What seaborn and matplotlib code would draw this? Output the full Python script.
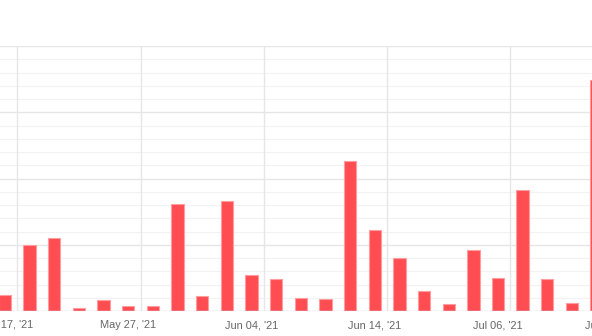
import matplotlib
matplotlib.use("Agg")
import matplotlib.pyplot as plt
import matplotlib.transforms as mtransforms
import seaborn as sns
import pandas as pd
import numpy as np

# Data (y units arbitrary, major grid = 50)
positions = list(range(25))
values = [12, 50, 55, 2, 8, 3.5, 3.5, 81, 11, 83, 27, 24, 9.5, 9, 113,
          61, 40, 15, 5, 46, 25, 91, 24, 6, 174]
tick_positions = [0, 5, 10, 15, 20, 25]
tick_labels = ["May 17, '21", "May 27, '21", "Jun 04, '21", "Jun 14, '21",
               "Jul 06, '21", "Jul 16, '21"]

sns.set_theme(style="white")
plt.rcParams['font.family'] = ['Liberation Sans', 'DejaVu Sans']

W, H = 592, 336
fig = plt.figure(figsize=(W / 100, H / 100), dpi=100)
fig.patch.set_facecolor("white")

# axes placement in pixels (extends beyond the canvas horizontally)
step = 24.65
x0 = 5 - 12.325      # pixel of x=-0.5
x1 = x0 + 26 * step  # pixel of x=25.5
ytop, ybot = 46, 311
ax = fig.add_axes([x0 / W, (H - ybot) / H, (x1 - x0) / W, (ybot - ytop) / H])

df = pd.DataFrame({"pos": positions, "val": values})
sns.barplot(data=df, x="pos", y="val", ax=ax, color="#ff4d52", width=0.5,
            edgecolor="#ff9ca0", linewidth=0.8, saturation=1, zorder=3,
            order=positions)
for p in ax.patches:
    p.set_facecolor("#ff4d52")

ax.set_xlim(-0.5, 25.5)
ax.set_ylim(0, 200)

# gridlines
for y in np.arange(10, 200, 10):
    if y % 50:
        ax.axhline(y, color="#f2f2f2", lw=0.8, zorder=1)
for y in [50, 100, 150, 200]:
    ax.axhline(y, color="#e6e6e6", lw=1.0, zorder=1.5)
for x in [0.5, 5.5, 10.5, 15.5, 20.5]:
    ax.axvline(x, color="#e6e6e6", lw=1.0, zorder=1.5)
ax.axhline(0, color="#ccd6eb", lw=1.0, zorder=4)

for s in ax.spines.values():
    s.set_visible(False)

ax.set_xticks(tick_positions)
ax.set_xticklabels(tick_labels)
ax.set_yticks([])
ax.tick_params(axis="x", length=0, pad=6.5, labelsize=7.9, labelcolor="#666666")
ax.set_xlabel("")
ax.set_ylabel("")

# the last (partly visible) label sits a little to the left in the reference
last = ax.get_xticklabels()[-1]
last.set_transform(last.get_transform() +
                   mtransforms.ScaledTranslation(-11 / 100, 0, fig.dpi_scale_trans))

fig.savefig("out.png", dpi=100)
